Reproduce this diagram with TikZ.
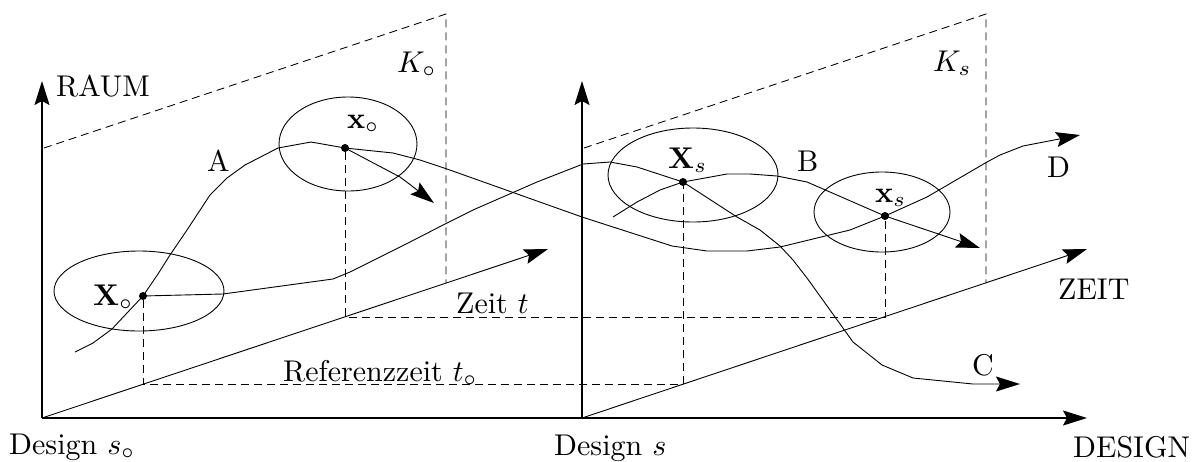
\documentclass[tikz,border=0pt]{standalone}
\usetikzlibrary{arrows.meta}
\newcommand\lbl[1]{\scalebox{3}{#1}}
\begin{document}
\begin{tikzpicture}[x=1pt,y=-1pt,
  every node/.style={inner sep=0pt, anchor=base west},
  axis/.style={line width=1.2pt},
  curve/.style={line width=0.9pt, line join=round},
  proj/.style={line width=0.9pt, dash pattern=on 8pt off 5pt},
  tip/.style={-{Stealth[length=24pt,width=15pt,inset=4pt]}},
  blob/.style={line width=0.9pt},
  pt/.style={circle, fill=black, inner sep=0pt, minimum size=8pt, anchor=center}]
\useasboundingbox (0,0) rectangle (1199,461);

% origins and axis ends
\coordinate (O1) at (42,418);
\coordinate (O2) at (582,418);
\coordinate (R1) at (42,81);
\coordinate (R2) at (582,81);
\coordinate (Dend) at (1087,418);
\coordinate (T1) at (548,249);
\coordinate (T2) at (1087,249);

% planes K
\coordinate (P1a) at (44,148);
\coordinate (P1b) at (446,14);
\coordinate (P1c) at (446,283);
\coordinate (P2a) at (584,148);
\coordinate (P2b) at (986,14);
\coordinate (P2c) at (986,283);

% points
\node[pt] (X0) at (143,296) {};
\node[pt] (x0) at (345,148) {};
\node[pt] (Xs) at (683,182) {};
\node[pt] (xs) at (885,216) {};

\coordinate (X0t) at (143,384);
\coordinate (Xst) at (683,384);
\coordinate (x0t) at (345,317);
\coordinate (xst) at (885,317);

% axes
\draw[axis,tip] (O1) -- (R1);
\draw[axis,tip] (O2) -- (R2);
\draw[axis,tip] (O1) -- (Dend);
\draw[curve,tip] (O1) -- (T1);
\draw[curve,tip] (O2) -- (T2);

% dashed planes
\draw[proj] (P1a) -- (P1b) -- (P1c);
\draw[proj] (P2a) -- (P2b) -- (P2c);

% projections
\draw[proj] (X0) -- (X0t) -- (Xst) -- (Xs);
\draw[proj] (x0) -- (x0t) -- (xst) -- (xs);

% ellipses
\draw[blob] (139,291) ellipse [x radius=85, y radius=40];
\draw[blob] (348,144) ellipse [x radius=69, y radius=47];
\draw[blob] (693,175) ellipse [x radius=85, y radius=47];
\draw[blob] (882,212) ellipse [x radius=68, y radius=40];

% curve A
\draw[curve] (75,352) -- (93,343) -- (112,329) -- (127,313) -- (X0.center) -- (158,274) -- (170,255)
  -- (187,230) -- (210,195) -- (227,178) -- (245,165) -- (278,148) -- (311,142) -- (x0.center);
% continuation to D
\draw[curve,tip] (x0.center) -- (393,153) -- (420,160) -- (447,169) -- (582,217) -- (672,246)
  -- (707,251) -- (747,251) -- (780,247) -- (850,230) -- (xs.center) -- (907,206) -- (927,197)
  -- (987,162) -- (1000,155) -- (1023,146) -- (1080,135);
% tangent arrow at x0
\draw[curve,tip] (x0.center) -- (400,177) -- (408,183) -- (434,203);
% curve C
\draw[curve,tip] (X0.center) -- (223,294) -- (333,279) -- (350,272) -- (410,242) -- (447,223)
  -- (473,210) -- (537,182) -- (583,164) -- (610,162) -- (637,167) -- (Xs.center) -- (737,217)
  -- (760,230) -- (780,246) -- (793,260) -- (807,278) -- (830,310) -- (853,342) -- (882,365)
  -- (913,378) -- (973,384) -- (1020,384);
% curve B
\draw[curve,tip] (613,217) -- (637,202) -- (660,190) -- (Xs.center) -- (727,174) -- (750,174)
  -- (777,176) -- (807,182) -- (xs.center) -- (980,248);

% labels
\node (lRaum) at (56,96) {\lbl{RAUM}};
\node (lK0) at (397,72) {\lbl{$K_\circ$}};
\node (lKs) at (933,71) {\lbl{$K_s$}};
\node (lx0) at (347,128) {\lbl{$\mathbf{x}_\circ$}};
\node (lX0) at (93,305) {\lbl{$\mathbf{X}_\circ$}};
\node (lXs) at (668,168) {\lbl{$\mathbf{X}_s$}};
\node (lxs) at (875,202) {\lbl{$\mathbf{x}_s$}};
\node (lA) at (207,171) {\lbl{A}};
\node (lB) at (797,171) {\lbl{B}};
\node (lC) at (972,375) {\lbl{C}};
\node (lD) at (1047,177) {\lbl{D}};
\node (lZeit) at (1058,299) {\lbl{ZEIT}};
\node (lDesign) at (1073,457) {\lbl{DESIGN}};
\node (lDs0) at (9,454) {\lbl{Design $s_\circ$}};
\node (lDs) at (554,455) {\lbl{Design $s$}};
\node (lZt) at (456,313) {\lbl{Zeit $t$}};
\node (lRef) at (283,381) {\lbl{Referenzzeit $t_\circ$}};
\end{tikzpicture}
\end{document}
